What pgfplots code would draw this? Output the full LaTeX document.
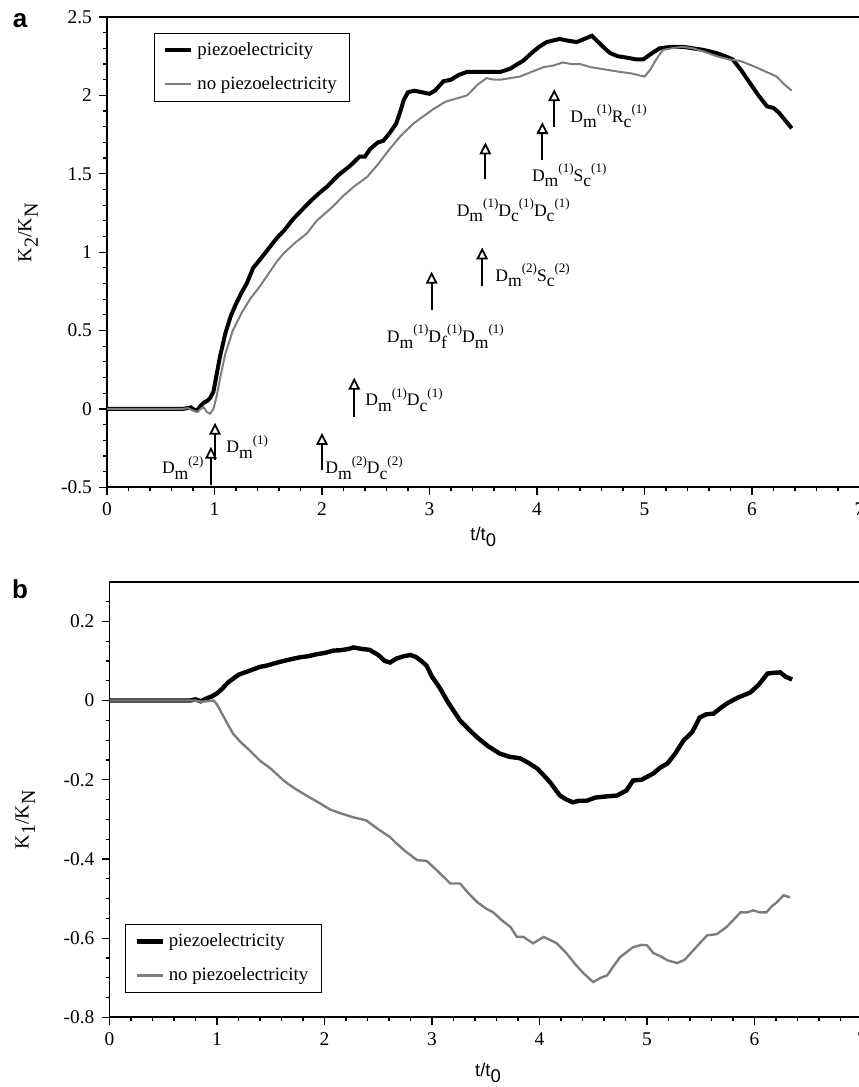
\documentclass[border=0pt]{standalone}
\usepackage{fontspec}
\setmainfont{Liberation Serif}
\newfontfamily\arial{Liberation Sans}
\usepackage{pgfplots}
\pgfplotsset{compat=1.18}
\usetikzlibrary{arrows.meta}
\definecolor{lgray}{RGB}{125,125,125}
\newcommand{\dn}[1]{\raisebox{-0.32em}{#1}}
\newcommand{\up}[1]{\raisebox{0.49em}{\fontsize{6.5}{7}\selectfont #1}}
\pgfplotsset{
 myaxis/.style={
  scale only axis, width=376.25pt, xmin=0, xmax=7, xtick={0,...,7}, minor x tick num=4,
  tick align=outside, tick pos=left,
  major tick length=4pt, minor tick length=2pt,
  every tick/.style={black, line width=0.6pt},
  axis line style={line width=0.9pt},
  tick label style={font=\fontsize{9.7}{11}\selectfont},
  /pgf/number format/assume math mode=true,
  clip=false,
  legend cell align=left,
  legend style={draw=black, font=\fontsize{9.4}{10}\selectfont, inner xsep=4.5pt, inner ysep=2.5pt,
    row sep=5pt, nodes={inner sep=2pt}, /tikz/every even column/.append style={column sep=3pt}},
  legend image code/.code={\draw[##1] (0pt,0pt) -- (13pt,0pt);},
  xlabel style={font=\arial\fontsize{9.2}{11}\selectfont, anchor=center},
  ylabel style={font=\fontsize{10}{12}\selectfont, anchor=center},
 },
}
\tikzset{
 arr/.style={line width=1pt, -{Triangle[open, length=6pt, width=5.8pt, line width=0.9pt]}},
 lab/.style={font=\fontsize{8.8}{10}\selectfont, inner sep=0pt},
}
\begin{document}
\begin{tikzpicture}
\useasboundingbox (0,0) rectangle (429pt,-543.5pt);
\node[anchor=base, font=\arial\bfseries\fontsize{13}{15}\selectfont, inner sep=0pt] at (10pt,-13.5pt) {a};
\node[anchor=base, font=\arial\bfseries\fontsize{13}{15}\selectfont, inner sep=0pt] at (10pt,-299pt) {b};
% ---------------- panel a
\begin{axis}[myaxis, at={(53.5pt,-243.65pt)}, anchor=south west, height=235.15pt,
  ymin=-0.5, ymax=2.5, ytick={-0.5,0,0.5,1,1.5,2,2.5}, minor y tick num=4,
  xlabel={t/t\dn{0}}, xlabel style={at={(axis description cs:0.5,-0.106)}},
  ylabel={K\dn{2}/K\dn{N}}, ylabel style={at={(axis description cs:-0.105,0.541)}},
  legend style={at={(axis description cs:0.0625,0.966)}, anchor=north west}]
\addplot[black, line width=2pt] coordinates {
(0,0) (0.5,0) (0.7,0) (0.75,0.005) (0.78,0.01) (0.81,-0.005) (0.84,-0.01) (0.87,0.02) (0.9,0.04) (0.93,0.05) (0.96,0.07) (0.99,0.11) (1.02,0.22) (1.05,0.33) (1.1,0.48) (1.15,0.59) (1.2,0.67) (1.25,0.74) (1.3,0.8) (1.36,0.9) (1.42,0.95) (1.5,1.02) (1.58,1.09) (1.65,1.14) (1.73,1.21) (1.8,1.26) (1.9,1.33) (1.98,1.38) (2.05,1.42) (2.15,1.49) (2.26,1.55) (2.35,1.61) (2.4,1.61) (2.45,1.66) (2.52,1.7) (2.57,1.71) (2.63,1.76) (2.69,1.82) (2.73,1.9) (2.76,1.97) (2.8,2.02) (2.86,2.03) (2.93,2.02) (3.0,2.01) (3.05,2.03) (3.13,2.09) (3.2,2.1) (3.27,2.13) (3.35,2.15) (3.45,2.15) (3.55,2.15) (3.66,2.15) (3.75,2.17) (3.82,2.2) (3.87,2.22) (3.95,2.27) (4.02,2.31) (4.09,2.34) (4.15,2.35) (4.21,2.36) (4.28,2.35) (4.37,2.34) (4.44,2.36) (4.51,2.38) (4.57,2.34) (4.63,2.3) (4.68,2.27) (4.75,2.25) (4.84,2.24) (4.92,2.23) (4.99,2.23) (5.05,2.26) (5.14,2.3) (5.25,2.31) (5.36,2.31) (5.45,2.3) (5.55,2.29) (5.67,2.27) (5.75,2.25) (5.82,2.23) (5.9,2.16) (5.98,2.08) (6.06,2.0) (6.14,1.93) (6.2,1.92) (6.25,1.89) (6.31,1.84) (6.37,1.79)};
\addlegendentry{piezoelectricity}
\addplot[lgray, line width=1pt] coordinates {
(0,0) (0.7,0) (0.75,0.005) (0.8,-0.01) (0.84,-0.02) (0.87,0.0) (0.9,0.01) (0.93,-0.02) (0.96,-0.03) (0.99,0.0) (1.02,0.08) (1.05,0.19) (1.1,0.35) (1.17,0.5) (1.25,0.61) (1.33,0.7) (1.42,0.78) (1.5,0.86) (1.58,0.94) (1.64,0.99) (1.75,1.06) (1.86,1.12) (1.95,1.2) (2.1,1.29) (2.2,1.36) (2.3,1.42) (2.42,1.48) (2.52,1.56) (2.62,1.65) (2.73,1.74) (2.85,1.82) (2.93,1.86) (3.03,1.91) (3.15,1.96) (3.25,1.98) (3.35,2.0) (3.45,2.07) (3.53,2.11) (3.6,2.1) (3.66,2.1) (3.75,2.11) (3.84,2.12) (3.95,2.15) (4.06,2.18) (4.15,2.19) (4.24,2.21) (4.32,2.2) (4.4,2.2) (4.5,2.18) (4.59,2.17) (4.68,2.16) (4.77,2.15) (4.88,2.14) (5.0,2.12) (5.05,2.16) (5.11,2.23) (5.17,2.29) (5.25,2.3) (5.36,2.31) (5.45,2.3) (5.55,2.28) (5.67,2.25) (5.78,2.23) (5.89,2.22) (6.0,2.19) (6.1,2.16) (6.23,2.12) (6.3,2.07) (6.37,2.03)};
\addlegendentry{no piezoelectricity}
% annotations
\draw[arr] (axis cs:0.967,-0.483) -- (axis cs:0.967,-0.241);
\draw[arr] (axis cs:1.005,-0.325) -- (axis cs:1.005,-0.088);
\draw[arr] (axis cs:2.0,-0.389) -- (axis cs:2.0,-0.153);
\draw[arr] (axis cs:2.30,-0.049) -- (axis cs:2.30,0.2);
\draw[arr] (axis cs:3.02,0.634) -- (axis cs:3.02,0.876);
\draw[arr] (axis cs:3.49,0.781) -- (axis cs:3.49,1.03);
\draw[arr] (axis cs:3.52,1.464) -- (axis cs:3.52,1.70);
\draw[arr] (axis cs:4.05,1.591) -- (axis cs:4.05,1.83);
\draw[arr] (axis cs:4.16,1.80) -- (axis cs:4.16,2.04);
\node[lab, anchor=base east] at (axis cs:0.902,-0.413) {D\dn{m}\up{(2)}};
\node[lab, anchor=base west] at (axis cs:1.107,-0.279) {D\dn{m}\up{(1)}};
\node[lab, anchor=base west] at (axis cs:2.028,-0.413) {D\dn{m}\up{(2)}D\dn{c}\up{(2)}};
\node[lab, anchor=base west] at (axis cs:2.40,0.021) {D\dn{m}\up{(1)}D\dn{c}\up{(1)}};
\node[lab, anchor=base west] at (axis cs:2.60,0.423) {D\dn{m}\up{(1)}D\dn{f}\up{(1)}D\dn{m}\up{(1)}};
\node[lab, anchor=base west] at (axis cs:3.61,0.815) {D\dn{m}\up{(2)}S\dn{c}\up{(2)}};
\node[lab, anchor=base west] at (axis cs:3.25,1.23) {D\dn{m}\up{(1)}D\dn{c}\up{(1)}D\dn{c}\up{(1)}};
\node[lab, anchor=base west] at (axis cs:3.95,1.453) {D\dn{m}\up{(1)}S\dn{c}\up{(1)}};
\node[lab, anchor=base west] at (axis cs:4.307,1.83) {D\dn{m}\up{(1)}R\dn{c}\up{(1)}};
\end{axis}
% ---------------- panel b
\begin{axis}[myaxis, at={(54.75pt,-508.65pt)}, anchor=south west, height=217.8pt,
  ymin=-0.8, ymax=0.3, ytick={-0.8,-0.6,-0.4,-0.2,0,0.2},
  minor ytick={-0.75,-0.7,-0.65,-0.55,-0.5,-0.45,-0.35,-0.3,-0.25,-0.15,-0.1,-0.05,0.05,0.1,0.15,0.25},
  xlabel={t/t\dn{0}}, xlabel style={at={(axis description cs:0.503,-0.128)}},
  ylabel={K\dn{1}/K\dn{N}}, ylabel style={at={(axis description cs:-0.112,0.453)}},
  legend style={at={(axis description cs:0.0206,0.214)}, anchor=north west}]
\addplot[black, line width=2.2pt] coordinates {
(0,0) (0.75,0) (0.8,0.003) (0.85,-0.002) (0.9,0.005) (0.95,0.01) (1.0,0.018) (1.05,0.03) (1.1,0.045) (1.15,0.055) (1.2,0.065) (1.31,0.076) (1.4,0.085) (1.46,0.088) (1.55,0.095) (1.62,0.1) (1.7,0.105) (1.77,0.109) (1.85,0.112) (1.93,0.117) (2.0,0.12) (2.08,0.126) (2.15,0.127) (2.22,0.13) (2.27,0.134) (2.35,0.13) (2.42,0.128) (2.5,0.115) (2.56,0.1) (2.61,0.096) (2.67,0.106) (2.74,0.112) (2.8,0.115) (2.85,0.11) (2.9,0.1) (2.95,0.088) (3.0,0.06) (3.07,0.033) (3.15,-0.005) (3.26,-0.05) (3.35,-0.075) (3.42,-0.093) (3.52,-0.115) (3.63,-0.134) (3.72,-0.142) (3.82,-0.146) (3.9,-0.158) (3.98,-0.172) (4.05,-0.192) (4.1,-0.207) (4.19,-0.24) (4.25,-0.25) (4.31,-0.257) (4.37,-0.253) (4.44,-0.253) (4.52,-0.245) (4.63,-0.242) (4.72,-0.24) (4.81,-0.227) (4.87,-0.202) (4.95,-0.2) (5.06,-0.184) (5.12,-0.17) (5.19,-0.159) (5.26,-0.135) (5.34,-0.101) (5.42,-0.08) (5.49,-0.043) (5.55,-0.035) (5.62,-0.033) (5.68,-0.02) (5.74,-0.008) (5.85,0.008) (5.96,0.02) (6.04,0.04) (6.12,0.068) (6.18,0.07) (6.24,0.071) (6.29,0.06) (6.35,0.053)};
\addlegendentry{piezoelectricity}
\addplot[lgray, line width=1.2pt] coordinates {
(0,0) (0.8,0) (0.85,-0.003) (0.9,-0.002) (0.97,0) (1.0,-0.01) (1.05,-0.035) (1.1,-0.06) (1.15,-0.084) (1.22,-0.105) (1.3,-0.125) (1.4,-0.152) (1.5,-0.172) (1.62,-0.202) (1.7,-0.218) (1.8,-0.235) (1.96,-0.26) (2.05,-0.275) (2.15,-0.285) (2.27,-0.295) (2.39,-0.303) (2.5,-0.325) (2.61,-0.345) (2.67,-0.361) (2.75,-0.38) (2.86,-0.403) (2.95,-0.405) (3.05,-0.43) (3.17,-0.462) (3.26,-0.462) (3.35,-0.49) (3.42,-0.509) (3.5,-0.525) (3.57,-0.535) (3.65,-0.555) (3.73,-0.572) (3.79,-0.597) (3.85,-0.597) (3.94,-0.613) (4.04,-0.597) (4.1,-0.605) (4.16,-0.613) (4.25,-0.638) (4.33,-0.665) (4.41,-0.689) (4.5,-0.711) (4.57,-0.7) (4.63,-0.694) (4.69,-0.67) (4.75,-0.648) (4.87,-0.623) (4.95,-0.617) (5.0,-0.618) (5.06,-0.638) (5.12,-0.645) (5.19,-0.656) (5.28,-0.663) (5.35,-0.655) (5.43,-0.631) (5.5,-0.61) (5.56,-0.593) (5.65,-0.59) (5.74,-0.572) (5.8,-0.555) (5.87,-0.535) (5.93,-0.535) (5.99,-0.53) (6.05,-0.535) (6.11,-0.535) (6.16,-0.52) (6.21,-0.509) (6.27,-0.492) (6.33,-0.497)};
\addlegendentry{no piezoelectricity}
\end{axis}
\end{tikzpicture}
\end{document}
